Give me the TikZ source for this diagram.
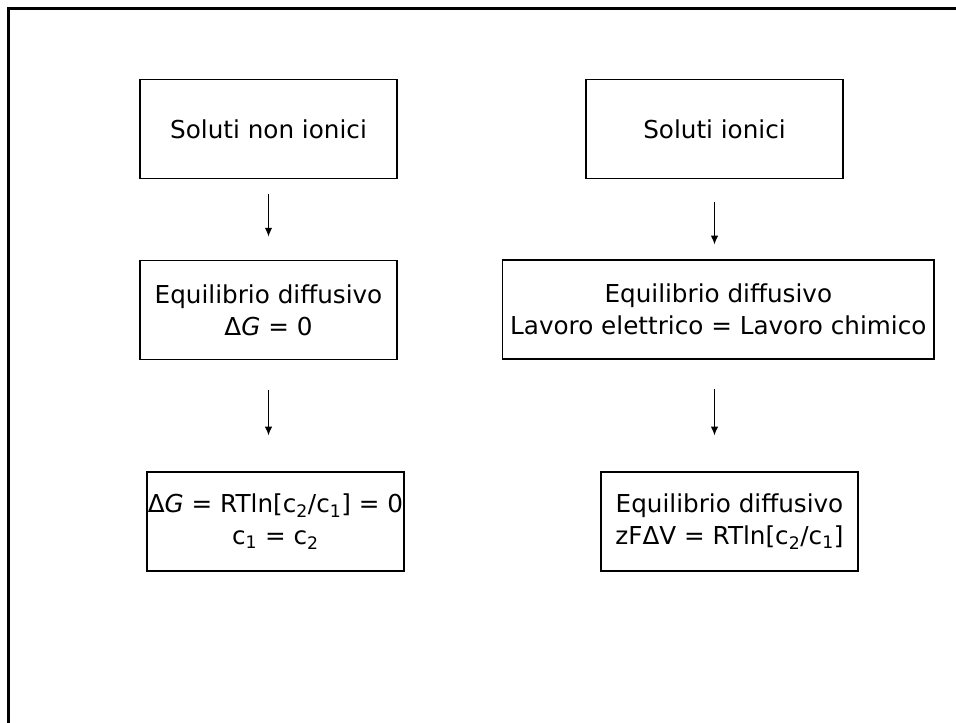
\documentclass[tikz,border=0pt]{standalone}
\usepackage{fontspec}
\setmainfont{DejaVu Sans}
\usetikzlibrary{arrows.meta}

\begin{document}
\begin{tikzpicture}
  [x=0.75pt,y=-0.75pt,
   every node/.style={draw,line width=1pt,inner sep=0pt,align=center,
     minimum width=192.75pt,minimum height=74.25pt,
     font=\fontsize{18.5}{23.8}\selectfont},
   wide/.style={minimum width=323.5pt},
   arr/.style={line width=0.75pt,-{Latex[length=6.5pt,width=5.5pt]}}]
  \useasboundingbox (0,0) rectangle (956,723);
  \draw[line width=2.25pt] (8.5,730) -- (8.5,8.5) -- (960,8.5);
  \node (sa) at (268.5,129) {Soluti non ionici};
  \node (sb) at (714.5,129) {Soluti ionici};
  \node (ea) at (268.5,310) {Equilibrio diffusivo\\Δ\textit{G} = 0};
  \node[wide] (eb) at (718.3,309.5) {Equilibrio diffusivo\\Lavoro elettrico = Lavoro chimico};
  \node (ra) at (275.5,521.5) {Δ\textit{G} = RTln[c\textsubscript{2}/c\textsubscript{1}] = 0\\c\textsubscript{1} = c\textsubscript{2}};
  \node (rb) at (729.5,521.5) {Equilibrio diffusivo\\zFΔV = RTln[c\textsubscript{2}/c\textsubscript{1}]};
    \foreach \from/\to/\s/\e in {sa.south/ea.north/11.25/17.5, sb.south/sb.south |- eb.north/17.25/11.25, ea.south/ea.south |- ra.north/22/27, sb.south |- eb.south/sb.south |- rb.north/22/27}
    \draw[arr,shorten <=\s pt,shorten >=\e pt] (\from) -- (\to);
  \end{tikzpicture}
\end{document}
